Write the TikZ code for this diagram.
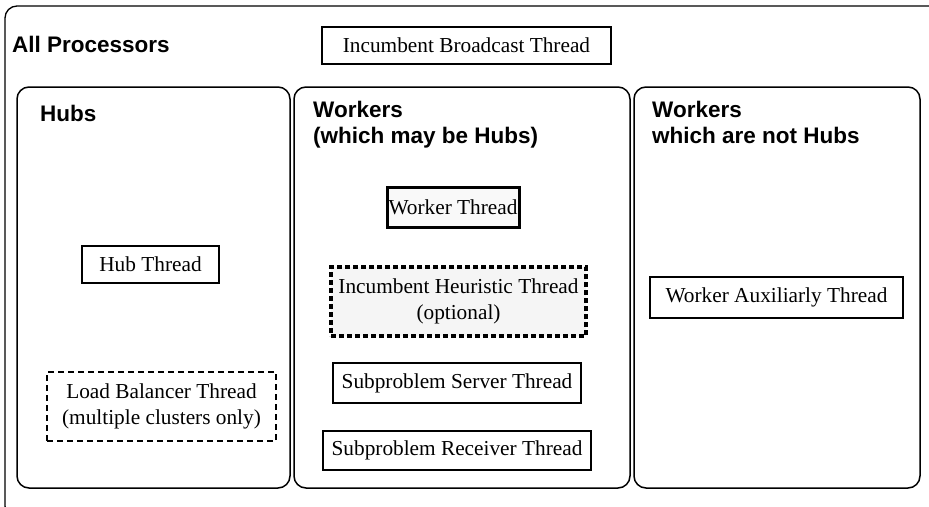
\documentclass[tikz,border=0pt]{standalone}
\usepackage{fontspec}
\setmainfont{Liberation Serif}
\newfontfamily\labelfont{Liberation Sans}
\begin{document}
\begin{tikzpicture}[x=1pt,y=-1pt,
  panel/.style={draw,line width=1.5pt,rounded corners=12pt},
  thread/.style={draw,line width=1.3pt,inner sep=0pt,font=\fontsize{21.3}{25.5}\selectfont,align=center},
  heading/.style={anchor=west,font=\labelfont\bfseries\fontsize{22.5}{26}\selectfont,align=left,inner sep=0pt},
  dashbox/.style={thread,dash pattern=on 6pt off 4pt,line width=1.8pt},
  dotbox/.style={thread,dash pattern=on 5pt off 3pt,line width=3.5pt,fill=gray!8},
  thickbox/.style={thread,line width=3pt,fill=gray!5}]
\useasboundingbox (0,0) rectangle (929,506);
\clip (0,0) rectangle (929,506);
\draw[panel,line width=1.3pt] (5,6) rectangle (945,518);
\node[heading] (allp) at (12,44) {All Processors};
\node[thread,minimum width=289pt,minimum height=37pt] (ibt) at (466.5,45.5) {Incumbent Broadcast Thread};
% panels
\draw[panel] (17,87) rectangle (290,488);
\draw[panel] (294,87) rectangle (630,488);
\draw[panel] (634,87) rectangle (920,488);
\node[heading] (hubs) at (40,113) {Hubs};
\node[heading,anchor=north west] (wk1) at (313,101) {Workers\\(which may be Hubs)};
\node[heading,anchor=north west] (wk2) at (652,101) {Workers\\which are not Hubs};
% hubs
\node[thread,minimum width=137pt,minimum height=37pt] (hub) at (150.5,264.5) {Hub Thread};
\node[dashbox,minimum width=229pt,minimum height=69pt] (lb) at (161.5,406.5) {Load Balancer Thread\\(multiple clusters only)};
% workers
\node[thickbox,minimum width=132pt,minimum height=40pt] (wt) at (453,207) {Worker Thread};
\node[dotbox,minimum width=255pt,minimum height=69pt] (iht) at (458.5,301.5) {Incumbent Heuristic Thread\\(optional)};
\node[thread,minimum width=248pt,minimum height=40pt] (sst) at (457,383) {Subproblem Server Thread};
\node[thread,minimum width=268pt,minimum height=39pt] (srt) at (457,450.5) {Subproblem Receiver Thread};
% aux
\node[thread,minimum width=253pt,minimum height=41pt] (wat) at (776.5,297.5) {Worker Auxiliarly Thread};
\end{tikzpicture}
\end{document}
